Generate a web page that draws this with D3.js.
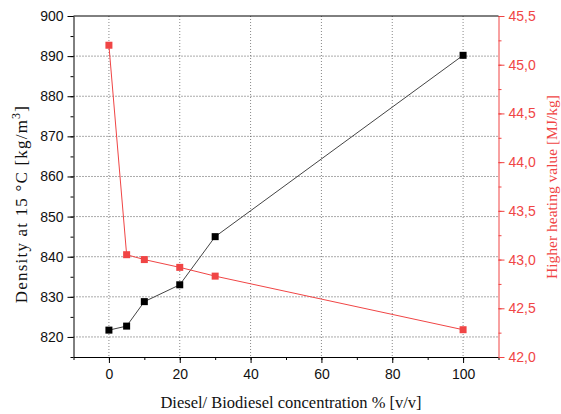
<!DOCTYPE html>
<html>
<head>
<meta charset="utf-8">
<script src="https://cdn.jsdelivr.net/npm/d3@7"></script>
<style>
    body { margin: 0; background: #fff; }
    .tick text { font-family: "Liberation Sans", Arial, sans-serif; font-size: 14px; }
    .title { font-family: "Liberation Serif", "Times New Roman", serif; font-size: 16px; }
</style>
</head>
<body>
<script>
const concentration = [0, 5, 10, 20, 30, 100];
const density = [821.7, 822.7, 828.8, 833.0, 845.0, 890.2];
const heatingValue = [45.2, 43.05, 43.0, 42.92, 42.83, 42.28];

const xTicks = [0, 20, 40, 60, 80, 100];
const densityTicks = [820, 830, 840, 850, 860, 870, 880, 890, 900];
const heatTicks = [42.0, 42.5, 43.0, 43.5, 44.0, 44.5, 45.0, 45.5];

const margin = {
    top: 16,
    right: 62.5,
    bottom: 57,
    left: 73.5
}

const width = 561 - margin.left - margin.right;
const height = 414 - margin.top - margin.bottom;

const red = "#f04545";

const xScale = d3.scaleLinear().domain([-10, 110]).range([0, width]);
const yScale = d3.scaleLinear().domain([815, 900]).range([height, 0]);
const y2Scale = d3.scaleLinear().domain([42, 45.5]).range([height, 0]);

const svg = d3.select("body").append("svg")
    .attr("width", 561)
    .attr("height", 414);

const chart = svg.append("g")
    .attr("transform", "translate(" + margin.left + "," + margin.top + ")");

// grid
chart.append("g")
    .selectAll("line")
    .data(xTicks)
    .join("line")
    .attr("x1", d => xScale(d))
    .attr("x2", d => xScale(d))
    .attr("y1", 0)
    .attr("y2", height)
    .attr("stroke", "#888")
    .attr("stroke-dasharray", "1,2");

chart.append("g")
    .selectAll("line")
    .data(densityTicks.filter(d => d < 900))
    .join("line")
    .attr("x1", 0)
    .attr("x2", width)
    .attr("y1", d => yScale(d))
    .attr("y2", d => yScale(d))
    .attr("stroke", "#555")
    .attr("stroke-dasharray", "1,2");

// minor ticks
const minorX = d3.range(-10, 111, 10);
const minorY = d3.range(815, 901, 5);
const minorY2 = d3.range(42, 45.51, 0.25);

chart.append("g")
    .attr("transform", `translate(0,${height})`)
    .call(d3.axisBottom(xScale).tickValues(minorX).tickSize(3).tickFormat(""))
    .call(g => g.select(".domain").remove());

chart.append("g")
    .call(d3.axisLeft(yScale).tickValues(minorY).tickSize(3).tickFormat(""))
    .call(g => g.select(".domain").remove());

chart.append("g")
    .attr("transform", `translate(${width},0)`)
    .call(d3.axisRight(y2Scale).tickValues(minorY2).tickSize(3).tickFormat(""))
    .call(g => g.select(".domain").remove())
    .call(g => g.selectAll("line").attr("stroke", red));

// axes
chart.append("g")
    .attr("transform", `translate(0,${height})`)
    .call(d3.axisBottom(xScale).tickValues(xTicks).tickSize(6).tickPadding(6).tickSizeOuter(0))
    .call(g => g.selectAll("text").attr("fill", "#111"));

chart.append("g")
    .call(d3.axisLeft(yScale).tickValues(densityTicks).tickSize(6).tickPadding(4).tickSizeOuter(0))
    .call(g => g.selectAll("text").attr("fill", "#111"));

chart.append("g")
    .attr("transform", `translate(${width},0)`)
    .call(d3.axisRight(y2Scale).tickValues(heatTicks).tickSize(6).tickPadding(4).tickSizeOuter(0)
        .tickFormat(d => d3.format(".1f")(d).replace(".", ",")))
    .call(g => g.select(".domain").attr("stroke", red))
    .call(g => g.selectAll("line").attr("stroke", red))
    .call(g => g.selectAll("text").attr("fill", red));

chart.append("line")
    .attr("x1", 0)
    .attr("x2", width)
    .attr("y1", 0)
    .attr("y2", 0)
    .attr("stroke", "#000");

// series
const densityLine = d3.line()
    .x((d, i) => xScale(concentration[i]))
    .y(d => yScale(d));

const heatLine = d3.line()
    .x((d, i) => xScale(concentration[i]))
    .y(d => y2Scale(d));

chart.append("path")
    .datum(density)
    .attr("d", densityLine)
    .attr("fill", "none")
    .attr("stroke", "#444")
    .attr("stroke-width", 1);

chart.append("path")
    .datum(heatingValue)
    .attr("d", heatLine)
    .attr("fill", "none")
    .attr("stroke", red)
    .attr("stroke-width", 1);

const size = 7;

chart.append("g")
    .selectAll("rect")
    .data(density)
    .join("rect")
    .attr("x", (d, i) => xScale(concentration[i]) - size / 2)
    .attr("y", d => yScale(d) - size / 2)
    .attr("width", size)
    .attr("height", size)
    .attr("fill", "#000");

chart.append("g")
    .selectAll("rect")
    .data(heatingValue)
    .join("rect")
    .attr("x", (d, i) => xScale(concentration[i]) - size / 2)
    .attr("y", d => y2Scale(d) - size / 2)
    .attr("width", size)
    .attr("height", size)
    .attr("fill", red);

// titles
svg.append("text")
    .attr("class", "title")
    .attr("x", 291)
    .attr("y", 408)
    .attr("text-anchor", "middle")
    .attr("fill", "#111")
    .style("font-size", "16.5px")
    .text("Diesel/ Biodiesel concentration % [v/v]");

const leftTitle = svg.append("text")
    .attr("class", "title")
    .attr("transform", "translate(27,204) rotate(-90)")
    .attr("text-anchor", "middle")
    .attr("fill", "#111")
    .style("font-size", "17px")
    .style("letter-spacing", "1.2px");
leftTitle.append("tspan").text("Density at 15 °C [kg/m");
leftTitle.append("tspan").attr("dy", -7).attr("font-size", "12px").text("3");
leftTitle.append("tspan").attr("dy", 7).text("]");

svg.append("text")
    .attr("class", "title")
    .attr("transform", "translate(557,187) rotate(-90)")
    .attr("text-anchor", "middle")
    .attr("fill", red)
    .style("font-size", "15.5px")
    .text("Higher heating value [MJ/kg]");
</script>
</body>
</html>
